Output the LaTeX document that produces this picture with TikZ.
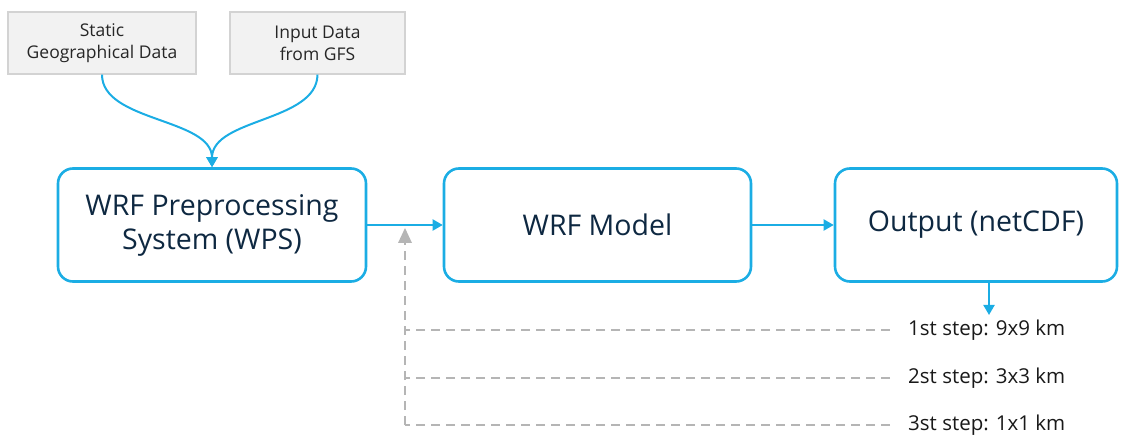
\documentclass[tikz,border=0pt]{standalone}
\usepackage{fontspec}
\setmainfont{Open Sans}
\usetikzlibrary{arrows.meta}
\definecolor{flowblue}{HTML}{1BADE4}
\definecolor{navy}{HTML}{0E2841}
\definecolor{srcfill}{HTML}{F2F2F2}
\definecolor{srcline}{HTML}{D3D3D3}
\definecolor{dashgray}{HTML}{B5B5B5}
\tikzset{
  srcbox/.style={draw=srcline, fill=srcfill, line width=1.2pt, minimum width=188pt,
    minimum height=62pt, align=center, font=\fontsize{17.5}{22}\selectfont, text=black!85},
  stagebox/.style={draw=flowblue, line width=2.6pt, rounded corners=15pt,
    minimum height=113pt, align=center, font=\fontsize{28.5}{34}\selectfont, text=navy},
  flow/.style={draw=flowblue, line width=2pt, -{Triangle[width=11pt,length=10pt]}},
  feed/.style={draw=dashgray, line width=2pt, dash pattern=on 9pt off 6pt},
  steplabel/.style={anchor=west, inner sep=0pt, font=\fontsize{20.5}{24}\selectfont, text=black!90}
}
\begin{document}
\begin{tikzpicture}[x=1pt,y=-1pt]
\useasboundingbox (0,0) rectangle (1132,435);

% input data sources
\node[srcbox] (static) at (102,43) {Static\\Geographical Data};
\node[srcbox, minimum width=175pt] (gfs) at (317.5,43) {Input Data\\from GFS};

% processing chain
\node[stagebox, minimum width=308pt] (wps) at (212,225) {WRF Preprocessing\\System (WPS)};
\node[stagebox, minimum width=307pt] (wrf) at (597.5,225) {WRF Model};
\node[stagebox, minimum width=282pt] (out) at (976,225) {Output (netCDF)};

% nesting steps
\node[steplabel] (s1) at (908,330) {1st step: 9x9 km};
\node[steplabel] (s2) at (908,378) {2st step: 3x3 km};
\node[steplabel] (s3) at (908,425) {3st step: 1x1 km};

\coordinate (fb1) at (405,330);
\coordinate (fb2) at (405,378);
\coordinate (fb3) at (405,425);
\coordinate (fbtip) at (405,228);
\coordinate (outtip) at (989,315);

% sources feeding WPS
\draw[flow] (static.south) .. controls (102,122) and (212,118) .. (wps.north);
\draw[flow] (gfs.south) .. controls (317,122) and (212,118) .. (wps.north);

% main flow
\draw[flow] (wps.east) -- (wrf.west);
\draw[flow] (wrf.east) -- (out.west);
\draw[flow] (out.south -| outtip) -- (outtip);

% feedback of nested domains
\draw[feed] ([xshift=-18pt]s1.west) -- (fb1);
\draw[feed] ([xshift=-18pt]s2.west) -- (fb2);
\draw[feed] ([xshift=-18pt]s3.west) -- (fb3);
\draw[feed] (fb3) -- ([yshift=-14pt]fbtip);
\fill[dashgray] (fbtip) -- ++(-7,15) -- ++(14,0) -- cycle;
\end{tikzpicture}
\end{document}
